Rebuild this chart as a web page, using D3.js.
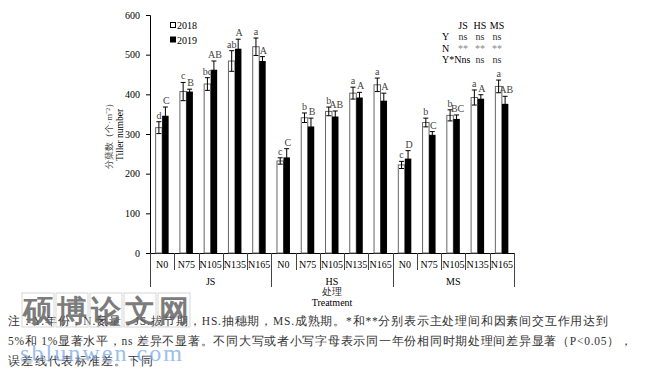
<!DOCTYPE html>
<html>
<head>
<meta charset="utf-8">
<script src="https://cdn.jsdelivr.net/npm/d3@7"></script>
<style>
body { margin: 0; background: #fff; }
text { font-family: "Liberation Serif", "Times New Roman", serif; }
</style>
</head>
<body>
<svg id="chart" width="648" height="370"></svg>
<script>
var stages = ["JS", "HS", "MS"];
var nLevels = ["N0", "N75", "N105", "N135", "N165"];
var v2018 = [316, 407, 426, 484, 520, 232, 341, 357, 403, 424, 222, 329, 347, 392, 420];
var e2018 = [15, 23, 16, 26, 22, 8, 12, 11, 15, 17, 9, 11, 14, 19, 16];
var v2019 = [346, 407, 462, 515, 484, 241, 319, 344, 392, 384, 238, 298, 338, 389, 376];
var e2019 = [22, 6, 22, 24, 11, 22, 21, 14, 13, 19, 20, 8, 10, 10, 19];
var lab2018 = ["d", "c", "bc", "ab", "a", "c", "b", "b", "a", "a", "c", "b", "b", "a", "a"];
var lab2019 = ["C", "B", "AB", "A", "A", "C", "B", "AB", "A", "A", "D", "C", "BC", "A", "AB"];
var yTicks = [0, 100, 200, 300, 400, 500, 600];

var svg = d3.select("#chart");
var pL = 150, pR = 514, pT = 15, pB = 253;

var cats = [];
stages.forEach(function(s) { nLevels.forEach(function(n) { cats.push(s + "-" + n); }); });

var x = d3.scaleBand().domain(cats).range([pL, pR]);
var y = d3.scaleLinear().domain([0, 600]).range([pB, pT]);
var bw = 6.5;

// y axis
var yAxis = svg.append("g").attr("transform", "translate(" + pL + ",0)")
    .call(d3.axisLeft(y).tickValues(yTicks).tickSize(4).tickPadding(6));
yAxis.select(".domain").attr("stroke", "#000");
yAxis.selectAll("text").attr("font-size", 10).attr("fill", "#000");

// x axis line + separators
svg.append("line").attr("x1", pL).attr("x2", pR).attr("y1", pB + 0.5).attr("y2", pB + 0.5).attr("stroke", "#000");
cats.forEach(function(c, i) {
    var xx = Math.round(x(c)) + 0.5;
    var long = (i % 5 === 0);
    svg.append("line").attr("x1", xx).attr("x2", xx).attr("y1", pB).attr("y2", long ? 287 : 270).attr("stroke", "#444");
});
svg.append("line").attr("x1", pR + 0.5).attr("x2", pR + 0.5).attr("y1", pB).attr("y2", 287).attr("stroke", "#444");

svg.selectAll(".nlab").data(cats).enter().append("text")
    .attr("x", function(d) { return x(d) + x.bandwidth() / 2; })
    .attr("y", 268).attr("text-anchor", "middle").attr("font-size", 10)
    .text(function(d) { return d.split("-")[1]; });

stages.forEach(function(s, i) {
    var cx = (x(s + "-N0") + x(s + "-N165") + x.bandwidth()) / 2;
    svg.append("text").attr("x", cx).attr("y", 285).attr("text-anchor", "middle").attr("font-size", 10).text(s);
});
svg.append("text").attr("x", 332).attr("y", 295).attr("text-anchor", "middle").attr("font-size", 10)
    .attr("font-family", "Noto Sans CJK SC").attr("fill", "#333").text("处理");
svg.append("text").attr("x", 332).attr("y", 306).attr("text-anchor", "middle").attr("font-size", 10).text("Treatment");

// bars
var g = svg.append("g");
g.selectAll(".b18").data(v2018).enter().append("rect")
    .attr("x", function(d, i) { return x(cats[i]) + x.bandwidth() / 2 - bw; })
    .attr("y", function(d) { return y(d); })
    .attr("width", bw).attr("height", function(d) { return pB - y(d); })
    .attr("fill", "#fff").attr("stroke", "#666").attr("stroke-width", 1);
g.selectAll(".b19").data(v2019).enter().append("rect")
    .attr("x", function(d, i) { return x(cats[i]) + x.bandwidth() / 2; })
    .attr("y", function(d) { return y(d); })
    .attr("width", bw).attr("height", function(d) { return pB - y(d); })
    .attr("fill", "#000");

function errs(vals, es, off, color) {
    vals.forEach(function(v, i) {
        var cx = x(cats[i]) + x.bandwidth() / 2 + off;
        var y1 = y(v + es[i]), y2 = y(v - es[i]);
        g.append("line").attr("x1", cx).attr("x2", cx).attr("y1", y1).attr("y2", y2).attr("stroke", color);
        [y1, y2].forEach(function(yy) {
            g.append("line").attr("x1", cx - 2.5).attr("x2", cx + 2.5).attr("y1", yy).attr("y2", yy).attr("stroke", color);
        });
    });
}
errs(v2018, e2018, -bw / 2, "#000");
errs(v2019, e2019, bw / 2, "#000");

function letters(vals, es, labs, off) {
    g.selectAll(null).data(labs).enter().append("text")
        .attr("x", function(d, i) { return x(cats[i]) + x.bandwidth() / 2 + off; })
        .attr("y", function(d, i) { return y(vals[i] + es[i]) - 3; })
        .attr("text-anchor", "middle").attr("font-size", 10).attr("fill", "#444")
        .text(function(d) { return d; });
}
letters(v2018, e2018, lab2018, -bw / 2);
letters(v2019, e2019, lab2019, bw / 2 + 1);

// y label
svg.append("text").attr("transform", "translate(112,134) rotate(-90)").attr("text-anchor", "middle")
    .attr("font-size", 9).attr("font-family", "Noto Sans CJK SC").attr("fill", "#444").text("分蘖数（个·m⁻²）");
svg.append("text").attr("transform", "translate(123,135) rotate(-90)").attr("text-anchor", "middle")
    .attr("font-size", 9.5).text("Tiller number");

// legend
var leg = svg.append("g");
[["2018", "#fff"], ["2019", "#000"]].forEach(function(d, i) {
    leg.append("rect").attr("x", 170.5).attr("y", 22.5 + i * 14.5).attr("width", 5).attr("height", 5)
        .attr("fill", d[1]).attr("stroke", "#000");
    leg.append("text").attr("x", 177).attr("y", 29 + i * 14.5).attr("font-size", 10).text(d[0]);
});

// significance table
var sig = svg.append("g").attr("font-size", 10);
var colX = [463, 480, 497];
["JS", "HS", "MS"].forEach(function(t, i) {
    sig.append("text").attr("x", colX[i]).attr("y", 29).attr("text-anchor", "middle").text(t);
});
var rows = [["Y", ["ns", "ns", "ns"], "#333"], ["N", ["**", "**", "**"], "#888"]];
rows.forEach(function(r, j) {
    sig.append("text").attr("x", 442).attr("y", 40 + j * 11.5).text(r[0]);
    r[1].forEach(function(t, i) {
        sig.append("text").attr("x", colX[i]).attr("y", 40 + j * 11.5).attr("text-anchor", "middle").attr("fill", r[2]).text(t);
    });
});
sig.append("text").attr("x", 442).attr("y", 63).text("Y*Nns");
sig.append("text").attr("x", 480).attr("y", 63).attr("text-anchor", "middle").attr("fill", "#333").text("ns");
sig.append("text").attr("x", 497).attr("y", 63).attr("text-anchor", "middle").attr("fill", "#333").text("ns");

// note
var notes = [
    ["注：Y.年份，N.氮量，JS.拔节期，HS.抽穗期，MS.成熟期。*和**分别表示主处理间和因素间交互作用达到", 325, 600],
    ["5%和 1%显著水平，ns 差异不显著。不同大写或者小写字母表示同一年份相同时期处理间差异显著（P<0.05），", 345, 624],
    ["误差线代表标准差。下同", 365, 145]
];
notes.forEach(function(n) {
    svg.append("text").attr("x", 8).attr("y", n[1]).attr("font-size", 11.5)
        .attr("font-family", "Liberation Serif, Noto Serif CJK SC, Noto Sans CJK SC").attr("fill", "#333")
        .attr("textLength", n[2]).attr("lengthAdjust", "spacing").text(n[0]);
});

// watermark
var wm = svg.append("g");
"硕博论文网".split("").forEach(function(c, i) {
    wm.append("rect").attr("x", 22 + i * 34).attr("y", 293).attr("width", 32).attr("height", 34)
        .attr("fill", "none").attr("stroke", "#ccc").attr("stroke-width", 0.8);
    wm.append("text").attr("x", 38 + i * 34).attr("y", 321).attr("text-anchor", "middle")
        .attr("font-family", "Noto Sans CJK SC").attr("font-weight", "bold").attr("font-size", 30)
        .attr("fill", "#666").attr("opacity", 0.85).text(c);
});
wm.append("text").attr("x", 20).attr("y", 361).attr("font-family", "Liberation Sans, Arial, sans-serif")
    .attr("font-size", 24).attr("fill", "#7aaae8").attr("opacity", 0.75).attr("textLength", 162).text("sblunwen.com");
</script>
</body>
</html>
